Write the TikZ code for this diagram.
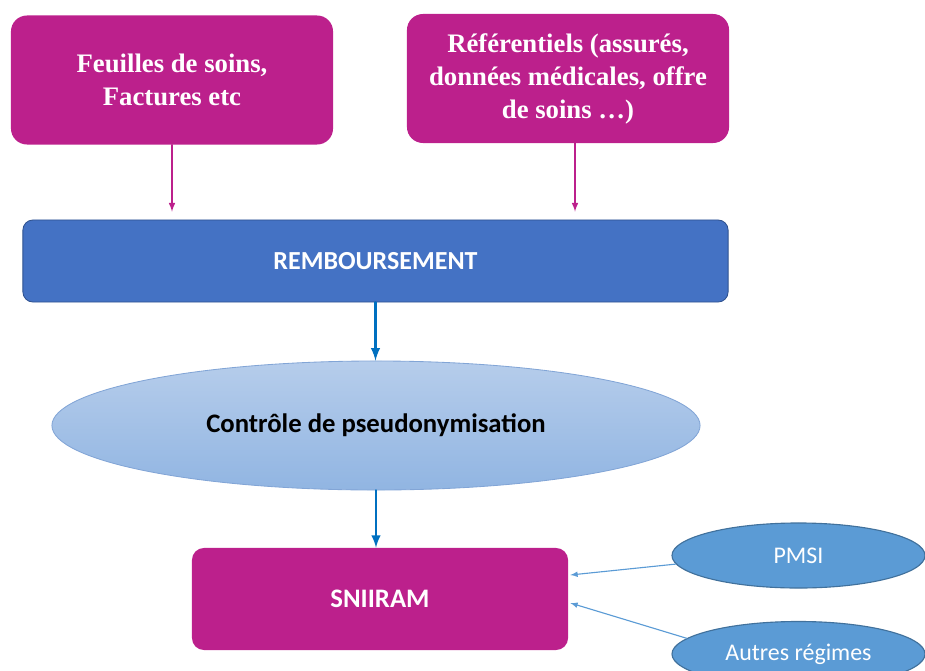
\documentclass[tikz,border=0pt]{standalone}
\usepackage{fontspec}
\setmainfont{Liberation Serif}
\newfontfamily\calibri{Carlito}
\usetikzlibrary{shapes.geometric}
\definecolor{magcol}{RGB}{188,32,140}
\definecolor{rembcol}{RGB}{68,114,196}
\definecolor{rembline}{RGB}{47,82,143}
\definecolor{flowblue}{RGB}{0,112,192}
\definecolor{pseudotop}{RGB}{182,205,235}
\definecolor{pseudobot}{RGB}{145,181,226}
\definecolor{pseudoline}{RGB}{130,165,214}
\definecolor{sourcecol}{RGB}{91,155,213}
\definecolor{sourceline}{RGB}{65,113,156}

\begin{document}
\begin{tikzpicture}[x=0.025cm,y=-0.025cm,line cap=round,line join=round,
magbox/.style={rectangle,rounded corners=0.4cm,fill=magcol,text=white,align=center,inner sep=0pt},
srcfont/.style={font=\fontsize{19}{23.5}\selectfont\bfseries},
rembbox/.style={rectangle,rounded corners=0.25cm,fill=rembcol,draw=rembline,line width=0.6pt,text=white,
  font=\calibri\fontsize{18.5}{22}\selectfont\bfseries},
pseudobox/.style={ellipse,inner sep=0pt,top color=pseudotop,bottom color=pseudobot,draw=pseudoline,line width=0.6pt,
  font=\calibri\fontsize{19}{22}\selectfont\bfseries},
sourcebox/.style={ellipse,inner sep=0pt,fill=sourcecol,draw=sourceline,line width=0.8pt,text=white,
  minimum width=6.325cm,minimum height=1.625cm,font=\calibri\fontsize{17}{20}\selectfont},
magarrow/.style={-latex,magcol,line width=1.1pt},
bluearrow/.style={-latex,flowblue,line width=2pt},
srcarrow/.style={-latex,sourcecol,line width=0.8pt}]
\useasboundingbox (0,0) rectangle (925,670);
\node[magbox,srcfont,minimum width=8.05cm,minimum height=3.225cm] (feuilles) at (172,80)
  {Feuilles de soins,\\Factures etc};
\node[magbox,srcfont,minimum width=8.05cm,minimum height=3.225cm] (refs) at (568,78.5)
  {Référentiels (assurés,\\données médicales, offre\\de soins \dots)};
\node[rembbox,minimum width=17.625cm,minimum height=2.05cm] (remb) at (375.5,261) {REMBOURSEMENT};
\node[pseudobox,minimum width=16.2cm,minimum height=3.225cm] (pseudo) at (376,425.5) {Contrôle de pseudonymisation};
\node[magbox,minimum width=9.4cm,minimum height=2.55cm,rounded corners=0.3cm,
  font=\calibri\fontsize{19}{22}\selectfont\bfseries] (sniiram) at (380,599) {SNIIRAM};
\node[sourcebox] (pmsi) at (798.5,555.5) {PMSI};
\node[sourcebox] (autres) at (798.5,654) {Autres régimes};
\draw[magarrow,shorten >=0.2cm] (feuilles.south) -- (feuilles.south |- remb.north);
\draw[magarrow,shorten >=0.2cm] ([xshift=0.175cm]refs.south) -- ([xshift=0.175cm]refs.south |- remb.north);
\draw[bluearrow] (remb.south) -- (remb.south |- pseudo.north);
\draw[bluearrow] (pseudo.south) -- (pseudo.south |- sniiram.north);
\draw[srcarrow] (pmsi.184) -- ([yshift=0.6cm,xshift=0.05cm]sniiram.east);
\draw[srcarrow] (autres.172) -- ([yshift=-0.1cm,xshift=0.05cm]sniiram.east);
\end{tikzpicture}
\end{document}
